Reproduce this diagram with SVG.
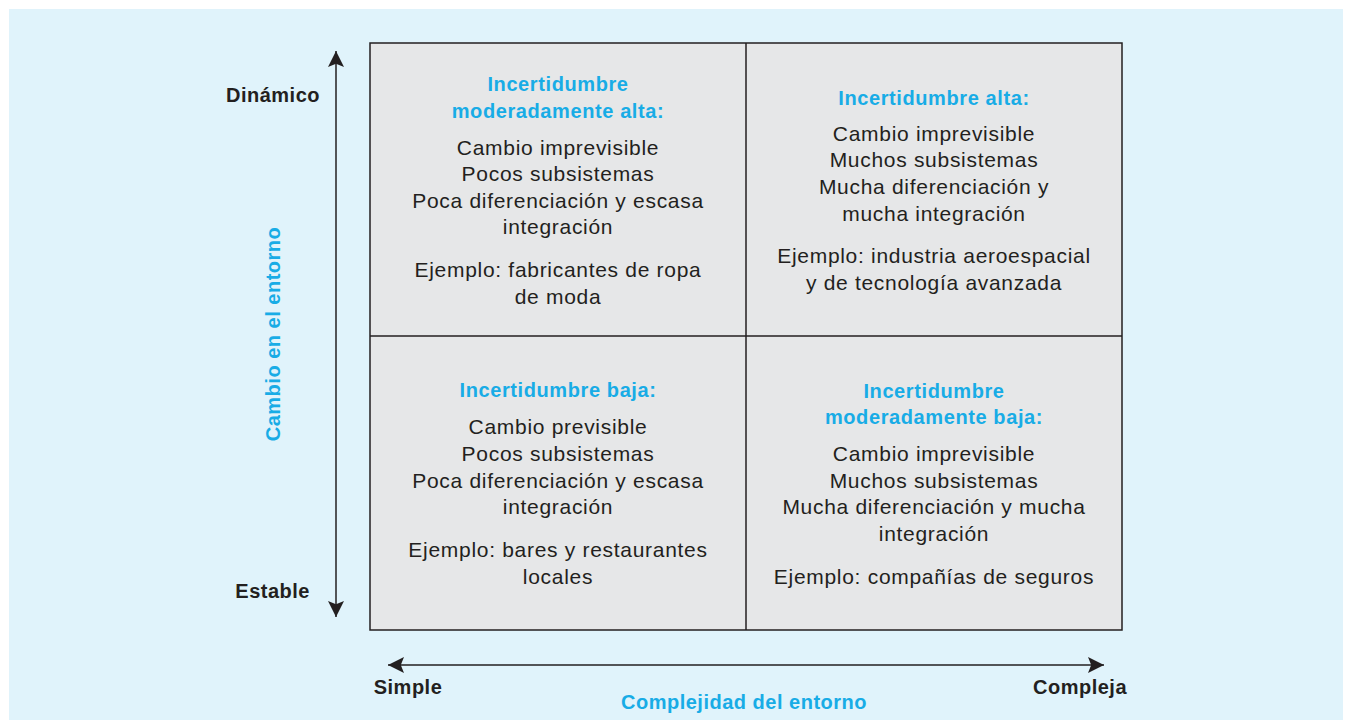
<svg xmlns="http://www.w3.org/2000/svg" width="1352" height="722" viewBox="0 0 1352 722">
<style>
.body{font-family:"Liberation Sans",Arial,sans-serif;font-size:21px;fill:#231f20;text-anchor:middle;letter-spacing:0.7px}
.title{font-family:"Liberation Sans",Arial,sans-serif;font-size:20px;font-weight:bold;fill:#18ace6;text-anchor:middle;letter-spacing:0.6px}
.axis{font-family:"Liberation Sans",Arial,sans-serif;font-size:20px;font-weight:bold;fill:#231f20;letter-spacing:0.5px}
.axisb{font-family:"Liberation Sans",Arial,sans-serif;font-size:20px;font-weight:bold;fill:#18ace6;text-anchor:middle;letter-spacing:0.5px}
.cell{fill:#e6e7e8;stroke:#231f20;stroke-width:1.5}
.conn{stroke:#231f20;stroke-width:1.5;fill:none}
</style>
<defs>
<marker id="ah" viewBox="0 0 10 10" refX="10" refY="5" markerWidth="16" markerHeight="16" markerUnits="userSpaceOnUse" orient="auto">
<path d="M0,0 L10,5 L0,10 L2,5 Z" fill="#231f20"/>
</marker>
</defs>
<rect x="9" y="9" width="1334" height="711" fill="#e0f3fb"/>
<g id="grid">
<rect class="cell" x="370" y="43" width="752" height="587"/>
<line class="conn" x1="746" y1="43" x2="746" y2="630"/>
<line class="conn" x1="370" y1="336" x2="1122" y2="336"/>
</g>
<g id="connectors">
<line class="conn" x1="336" y1="333" x2="336" y2="51" marker-end="url(#ah)"/>
<line class="conn" x1="336" y1="333" x2="336" y2="617" marker-end="url(#ah)"/>
<line class="conn" x1="746" y1="665" x2="388" y2="665" marker-end="url(#ah)"/>
<line class="conn" x1="746" y1="665" x2="1104" y2="665" marker-end="url(#ah)"/>
</g>
<g id="cell-tl">
<text class="title" x="558" y="91">Incertidumbre</text>
<text class="title" x="558" y="118">moderadamente alta:</text>
<text class="body" x="558" y="155">Cambio imprevisible</text>
<text class="body" x="558" y="181">Pocos subsistemas</text>
<text class="body" x="558" y="208">Poca diferenciación y escasa</text>
<text class="body" x="558" y="234">integración</text>
<text class="body" x="558" y="277">Ejemplo: fabricantes de ropa</text>
<text class="body" x="558" y="304">de moda</text>
</g>
<g id="cell-tr">
<text class="title" x="934" y="105">Incertidumbre alta:</text>
<text class="body" x="934" y="141">Cambio imprevisible</text>
<text class="body" x="934" y="167">Muchos subsistemas</text>
<text class="body" x="934" y="194">Mucha diferenciación y</text>
<text class="body" x="934" y="221">mucha integración</text>
<text class="body" x="934" y="263">Ejemplo: industria aeroespacial</text>
<text class="body" x="934" y="290">y de tecnología avanzada</text>
</g>
<g id="cell-bl">
<text class="title" x="558" y="397">Incertidumbre baja:</text>
<text class="body" x="558" y="434">Cambio previsible</text>
<text class="body" x="558" y="461">Pocos subsistemas</text>
<text class="body" x="558" y="488">Poca diferenciación y escasa</text>
<text class="body" x="558" y="514">integración</text>
<text class="body" x="558" y="557">Ejemplo: bares y restaurantes</text>
<text class="body" x="558" y="584">locales</text>
</g>
<g id="cell-br">
<text class="title" x="934" y="398">Incertidumbre</text>
<text class="title" x="934" y="424">moderadamente baja:</text>
<text class="body" x="934" y="461">Cambio imprevisible</text>
<text class="body" x="934" y="488">Muchos subsistemas</text>
<text class="body" x="934" y="514">Mucha diferenciación y mucha</text>
<text class="body" x="934" y="541">integración</text>
<text class="body" x="934" y="584">Ejemplo: compañías de seguros</text>
</g>
<g id="labels">
<text class="axis" x="320" y="102" text-anchor="end">Dinámico</text>
<text class="axis" x="310" y="598" text-anchor="end">Estable</text>
<text class="axis" x="408" y="694" text-anchor="middle">Simple</text>
<text class="axis" x="1080" y="694" text-anchor="middle">Compleja</text>
<text class="axisb" x="744" y="709">Complejidad del entorno</text>
<text class="axisb" x="0" y="0" transform="translate(280,334) rotate(-90)">Cambio en el entorno</text>
</g>
</svg>
